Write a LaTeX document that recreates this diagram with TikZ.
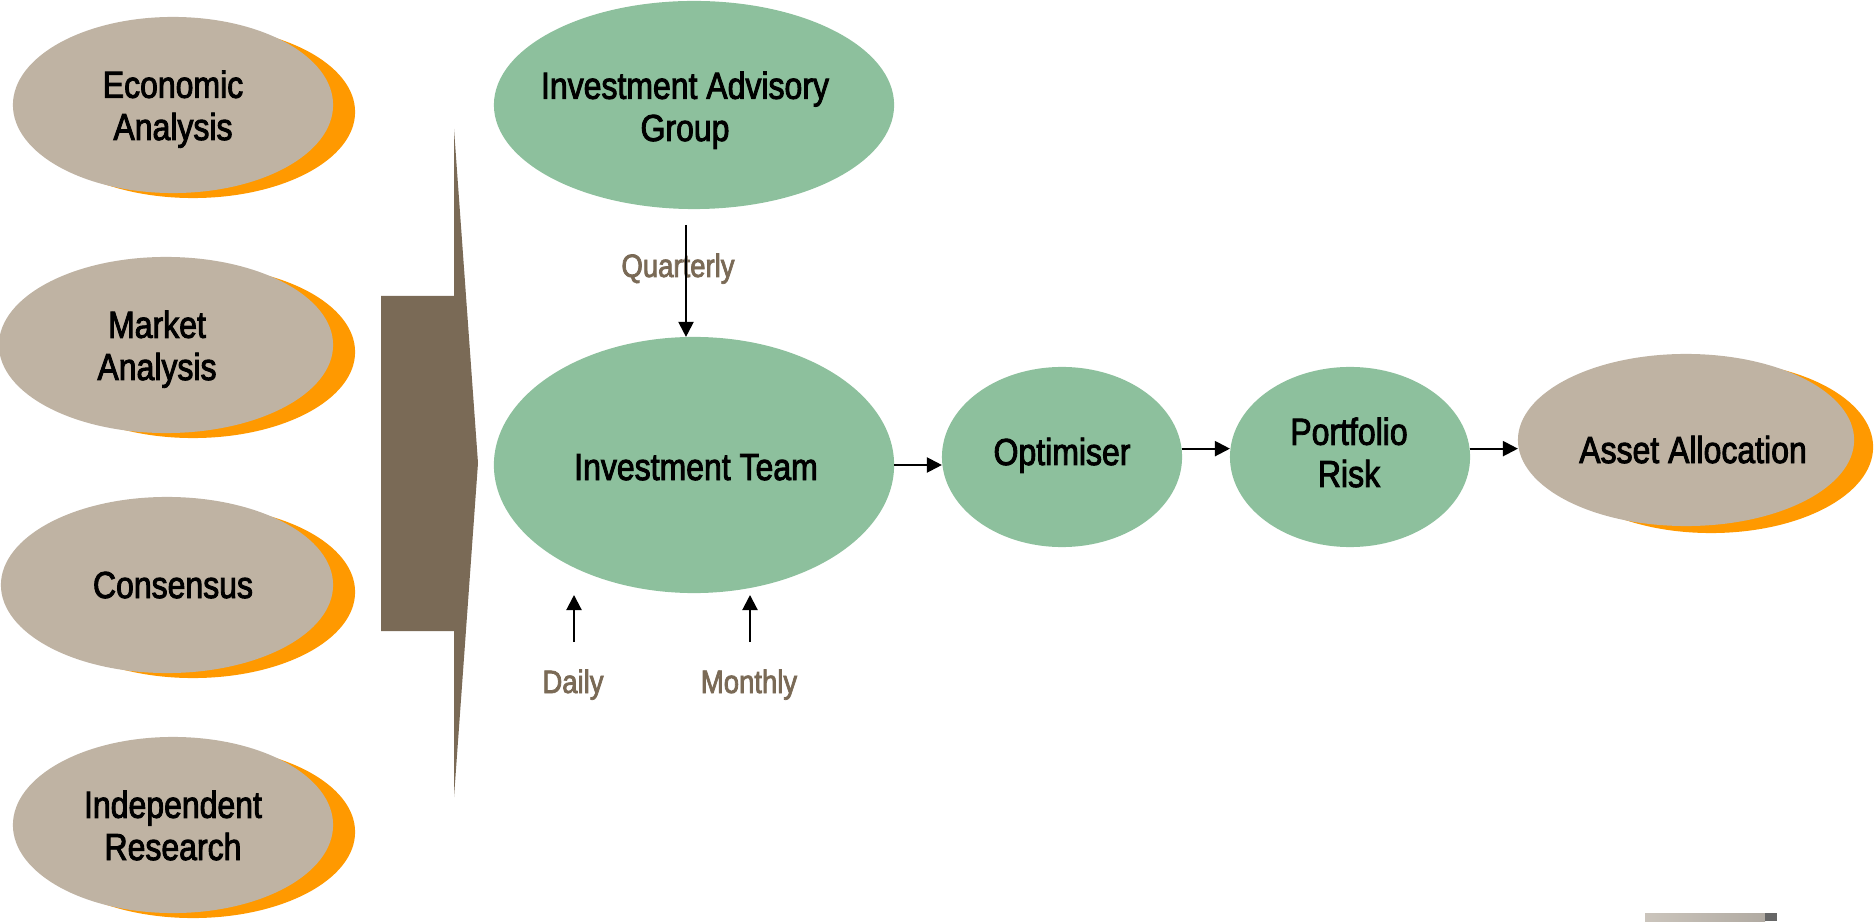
\documentclass[tikz,border=0pt]{standalone}
\usepackage{fontspec}
\setmainfont{Liberation Sans}[FakeStretch=0.85, FakeBold=2.4]
\usetikzlibrary{shapes.geometric,arrows.meta}
\definecolor{ctan}{HTML}{BFB3A3}
\definecolor{corange}{HTML}{FF9900}
\definecolor{cgreen}{HTML}{8DC09D}
\definecolor{cbrown}{HTML}{7A6A56}
\tikzset{
  tanell/.style={ellipse, fill=ctan, draw=none, inner sep=0pt, outer sep=0pt},
  orgell/.style={ellipse, fill=corange, draw=none, inner sep=0pt, outer sep=0pt},
  grnell/.style={ellipse, fill=cgreen, draw=none, inner sep=0pt, outer sep=0pt},
  lbl/.style={font=\fontsize{10.7}{12}\selectfont, align=center, inner sep=0pt, anchor=base},
  flab/.style={font=\fontsize{9.2}{11}\selectfont, text=cbrown, inner sep=0pt, anchor=base},
  arr/.style={line width=0.6pt, -{Triangle[length=4.3pt,width=4.3pt]}}
}
\begin{document}
\begin{tikzpicture}[x=0.01cm,y=-0.01cm]
\useasboundingbox (0,0) rectangle (1874,922);

% left input ellipses (orange shadow + tan body)
\node[orgell, minimum width=3.24cm, minimum height=1.72cm] (econ-sh) at (193,112) {};
\node[tanell, minimum width=3.2cm, minimum height=1.76cm] (econ) at (173,105) {};
\node[lbl] (econ-t) at (173,140) {Economic\\Analysis};

\node[orgell, minimum width=3.24cm, minimum height=1.72cm] (mkt-sh) at (193,352) {};
\node[tanell, minimum width=3.34cm, minimum height=1.76cm] (mkt) at (166,345) {};
\node[lbl] (mkt-t) at (157,380) {Market\\Analysis};

\node[orgell, minimum width=3.24cm, minimum height=1.72cm] (cons-sh) at (193,592) {};
\node[tanell, minimum width=3.32cm, minimum height=1.76cm] (cons) at (167,585) {};
\node[lbl] (cons-t) at (173,598) {Consensus};

\node[orgell, minimum width=3.24cm, minimum height=1.72cm] (ind-sh) at (193,832) {};
\node[tanell, minimum width=3.2cm, minimum height=1.76cm] (ind) at (173,825) {};
\node[lbl] (ind-t) at (173,860) {Independent\\Research};

% big brown arrow
\fill[cbrown] (381,296) -- (454,296) -- (454,129) -- (478,463) -- (454,797) -- (454,631) -- (381,631) -- cycle;

% green process ellipses
\node[grnell, minimum width=4cm, minimum height=2.08cm] (iag) at (694,105) {};
\node[lbl] (iag-t) at (685,141) {Investment Advisory\\Group};

\node[grnell, minimum width=4cm, minimum height=2.56cm] (team) at (694,465) {};
\node[lbl] (team-t) at (696,480) {Investment Team};

\node[grnell, minimum width=2.4cm, minimum height=1.8cm] (opt) at (1062,457) {};
\node[lbl] (opt-t) at (1062,465) {Optimiser};

\node[grnell, minimum width=2.4cm, minimum height=1.8cm] (port) at (1350,457) {};
\node[lbl] (port-t) at (1349,487) {Portfolio\\Risk};

\node[orgell, minimum width=3.24cm, minimum height=1.72cm] (asset-sh) at (1711,447) {};
\node[tanell, minimum width=3.36cm, minimum height=1.72cm] (asset) at (1686,440) {};
\node[lbl] (asset-t) at (1693,463) {Asset Allocation};

% frequency labels
\node[flab] (q-t) at (678,277) {Quarterly};
\node[flab] (d-t) at (573,693) {Daily};
\node[flab] (m-t) at (749,693) {Monthly};

% connectors
\coordinate (qa) at (686,225);
\draw[arr] (qa) -- (qa |- team.north);
\coordinate (da) at (574,642);
\coordinate (db) at (574,595);
\draw[arr] (da) -- (db);
\coordinate (ma) at (750,642);
\coordinate (mb) at (750,595);
\draw[arr] (ma) -- (mb);
\draw[arr] (team.east) -- (team.east -| opt.west);
\draw[arr] (opt.4) -- (opt.4 -| port.west);
\draw[arr] (port.4) -- (port.4 -| asset.west);

% small grey bar at bottom right
\shade[left color=black!12!ctan!60, right color=black!25!ctan!70] (1645,913) rectangle (1765,921);
\fill[black!60] (1765,913) rectangle (1777,921);
\end{tikzpicture}
\end{document}
